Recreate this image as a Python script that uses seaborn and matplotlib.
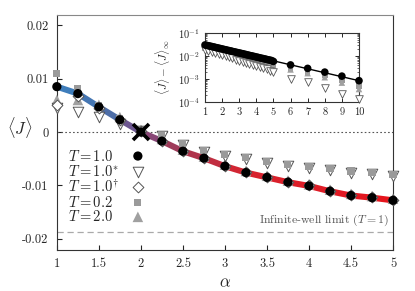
import matplotlib
matplotlib.use("Agg")
import matplotlib.pyplot as plt
import seaborn as sns
from matplotlib.collections import LineCollection
from matplotlib.colors import LinearSegmentedColormap

# -----------------------------
# DATA
# -----------------------------
alpha = [1, 1.25, 1.5, 1.75, 2, 2.25, 2.5, 2.75, 3, 3.25, 3.5, 3.75, 4, 4.25, 4.5, 4.75, 5]
J_T10 = [0.0085, 0.0072, 0.0047, 0.0023, 0.0, -0.0017, -0.0036, -0.0049, -0.0064, -0.0076,
         -0.0085, -0.0094, -0.0101, -0.0111, -0.0119, -0.0123, -0.0128]
J_T10_star = [0.0045, 0.0038, 0.0028, 0.0015, 0.0001, -0.0008, -0.0025, -0.0037, -0.0045, -0.0051,
              -0.0058, -0.0064, -0.0068, -0.0072, -0.0076, -0.0079, -0.0082]
J_T10_dag = [0.0050, 0.0068, 0.0045, 0.0022, 0.0001, -0.0016, -0.0035, -0.0048, -0.0063, -0.0075,
             -0.0084, -0.0093, -0.0100, -0.0110, -0.0118, -0.0122, -0.0127]
J_T02 = [0.0109, 0.0081, 0.0050, 0.0026, 0.0002, -0.0006, -0.0022, -0.0034, -0.0042, -0.0048,
         -0.0055, -0.0061, -0.0065, -0.0069, -0.0073, -0.0076, -0.0079]
J_T20 = [0.0060, 0.0060, 0.0051, 0.0028, 0.0004, -0.0013, -0.0033, -0.0046, -0.0061, -0.0073,
         -0.0082, -0.0091, -0.0098, -0.0108, -0.0116, -0.0120, -0.0125]
J_infinite_well = -0.0187

labels = ["$T = 1.0$", "$T = 1.0^{*}$", "$T = 1.0^{\\dagger}$", "$T = 0.2$", "$T = 2.0$"]

xticks = [1, 1.5, 2, 2.5, 3, 3.5, 4, 4.5, 5]
xticklabels = ["1", "1.5", "2", "2.5", "3", "3.5", "4", "4.5", "5"]
yticks = [-0.02, -0.01, 0, 0.01, 0.02]
yticklabels = ["-0.02", "-0.01", "0", "0.01", "0.02"]

# inset: <J> - <J>_inf on log scale
in_x = [1.0, 1.1, 1.2, 1.3, 1.4, 1.5, 1.6, 1.7, 1.8, 1.9, 2.0, 2.1, 2.2, 2.3, 2.4, 2.5, 2.6, 2.7,
        2.8, 2.9, 3.0, 3.1, 3.2, 3.3, 3.4, 3.5, 3.6, 3.7, 3.8, 3.9, 4.0, 4.1, 4.2, 4.3, 4.4, 4.5,
        4.6, 4.7, 4.8, 4.9, 5.0, 6, 7, 8, 9, 10]
in_T10 = [0.0300, 0.0288, 0.0277, 0.0266, 0.0256, 0.0246, 0.0236, 0.0227, 0.0218, 0.0209, 0.0201,
          0.0193, 0.0186, 0.0178, 0.0171, 0.0165, 0.0158, 0.0152, 0.0146, 0.0140, 0.0135, 0.0130,
          0.0125, 0.0120, 0.0115, 0.0110, 0.0106, 0.0102, 0.0098, 0.0094, 0.0090, 0.0087, 0.0083,
          0.0080, 0.0077, 0.0074, 0.0071, 0.0068, 0.0066, 0.0063, 0.0058,
          0.0041, 0.0029, 0.0020, 0.00134, 0.00085]
in_x2 = [1.0, 1.2, 1.4, 1.6, 1.8, 2.0, 2.2, 2.4, 2.6, 2.8, 3.0, 3.2, 3.4, 3.6, 3.8, 4.0, 4.2, 4.4,
         4.6, 4.8, 5.0, 6, 7, 8, 9, 10]
in_T10_star = [0.0190, 0.0170, 0.0152, 0.0136, 0.0122, 0.0109, 0.0098, 0.0087, 0.0078, 0.0070,
               0.0063, 0.0056, 0.0050, 0.0045, 0.0040, 0.0036, 0.0032, 0.0029, 0.0026, 0.0023,
               0.0021, 0.0010, 0.00074, 0.00042, 0.00022, 0.00014]
in_T02 = [0.0240, 0.0217, 0.0196, 0.0177, 0.0160, 0.0144, 0.0130, 0.0118, 0.0106, 0.0096,
          0.0087, 0.0078, 0.0071, 0.0064, 0.0058, 0.0052, 0.0047, 0.0042, 0.0038, 0.0035,
          0.0031, 0.0028, 0.0020, 0.0014, 0.0009, 0.0005]
in_T20 = [0.0228, 0.0206, 0.0186, 0.0168, 0.0152, 0.0137, 0.0124, 0.0112, 0.0101, 0.0091,
          0.0083, 0.0074, 0.0067, 0.0061, 0.0055, 0.0049, 0.0045, 0.0040, 0.0036, 0.0033,
          0.0029, 0.0026, 0.0018, 0.0012, 0.0007, 0.00037]
fit_x = [1, 10]
fit_y = [0.030, 0.00085]

# -----------------------------
# STYLE
# -----------------------------
sns.set_style("ticks")
plt.rcParams["font.family"] = "cmr10"
plt.rcParams["mathtext.fontset"] = "cm"
plt.rcParams["axes.unicode_minus"] = False
plt.rcParams["axes.formatter.use_mathtext"] = True
plt.rcParams["xtick.direction"] = "in"
plt.rcParams["ytick.direction"] = "in"

fig = plt.figure(figsize=(4.15, 2.91), dpi=100)
ax = fig.add_axes([0.137, 0.141, 0.810, 0.807])

# gradient main curve
cmap = LinearSegmentedColormap.from_list(
    "bluered",
    [(0.0, "#3a80c0"), (0.15, "#4b70aa"), (0.25, "#7c4c84"), (0.35, "#a13a58"),
     (0.55, "#d62430"), (1.0, "#e6141c")])
segs = [[(alpha[i], J_T10[i]), (alpha[i + 1], J_T10[i + 1])] for i in range(len(alpha) - 1)]
mids = [((alpha[i] + alpha[i + 1]) / 2 - 1) / 4 for i in range(len(alpha) - 1)]
lc = LineCollection(segs, colors=[cmap(m) for m in mids], linewidths=4.4,
                    capstyle="round", joinstyle="round", zorder=2)
ax.add_collection(lc)

ax.axhline(0, color="#555555", lw=0.8, ls=(0, (1.5, 2)), zorder=1)
ax.axhline(J_infinite_well, color="#aaaaaa", lw=0.9, ls=(0, (5, 3)), zorder=1)
ax.text(4.95, J_infinite_well + 0.0007, "Infinite-well limit $(T=1)$", ha="right", va="bottom",
        fontsize=8.5, color="#555555")

# series: (values, marker, size, face, edge, zorder)
styles = {
    labels[3]: (J_T02, "s", 26, "#9a9a9a", "none", 4.5),
    labels[4]: (J_T20, "^", 58, "#a0a0a0", "none", 3),
    labels[1]: (J_T10_star, "v", 58, "white", "#555555", 4),
    labels[2]: (J_T10_dag, "D", 30, "white", "#555555", 4.2),
    labels[0]: (J_T10, "o", 44, "black", "none", 5),
}
for lab, (vals, mk, sz, fc, ec, z) in styles.items():
    sns.scatterplot(x=alpha, y=vals, marker=mk, s=sz, facecolor=fc, edgecolor=ec,
                    linewidth=0.7, ax=ax, zorder=z, clip_on=False)
ax.plot([2], [0], marker="x", ms=11, mew=2.6, color="black", zorder=6)

ax.set_xlim(1, 5)
ax.set_ylim(-0.0221, 0.0219)
ax.set_xticks(xticks)
ax.set_xticklabels(xticklabels)
ax.set_yticks(yticks)
ax.set_yticklabels(yticklabels)
ax.tick_params(labelsize=9, length=3.5, width=0.8, pad=6)
for side in ["left", "bottom", "right"]:
    ax.spines[side].set_color("#333333")
ax.spines["top"].set_color("#888888")
ax.set_xlabel("$\\alpha$", fontsize=12)
ax.xaxis.set_label_coords(0.5, -0.105)
ax.set_ylabel("$\\langle J\\rangle$", fontsize=12, rotation=0)
ax.yaxis.set_label_coords(-0.11, 0.47)

# legend: labels left-aligned, key markers to the right
legend_y = [0.400, 0.333, 0.269, 0.203, 0.141]
for lab, ly in zip(labels, legend_y):
    vals, mk, sz, fc, ec, z = styles[lab]
    ax.text(0.033, ly, lab, transform=ax.transAxes, fontsize=10.5, va="center", ha="left")
    ax.scatter([0.241], [ly], marker=mk, s=sz, facecolor=fc, edgecolor=ec, linewidth=0.7,
               transform=ax.transAxes, zorder=z, clip_on=False)

# -----------------------------
# INSET
# -----------------------------
ins = fig.add_axes([0.494, 0.649, 0.371, 0.238])
ins.plot(fit_x, fit_y, color="black", lw=1.0, zorder=2)
sns.scatterplot(x=in_x2, y=in_T02, marker="s", s=16, color="#9a9a9a", edgecolor="none",
                ax=ins, zorder=3, clip_on=False)
sns.scatterplot(x=in_x2, y=in_T20, marker="^", s=22, color="#a0a0a0", edgecolor="none",
                ax=ins, zorder=3, clip_on=False)
sns.scatterplot(x=in_x2, y=in_T10_star, marker="v", s=30, facecolor="white", edgecolor="#555555",
                linewidth=0.6, ax=ins, zorder=4, clip_on=False)
sns.scatterplot(x=in_x, y=in_T10, marker="o", s=30, color="black", edgecolor="none",
                ax=ins, zorder=5, clip_on=False)
ins.set_yscale("log")
ins.set_xlim(1, 10)
ins.set_ylim(1e-4, 1e-1)
ins.set_xticks(range(1, 11))
ins.set_xticklabels([str(i) for i in range(1, 11)])
ins.tick_params(which="both", top=True, right=True, labelsize=7.5, pad=4)
ins.tick_params(which="major", length=3, width=0.7)
ins.tick_params(which="minor", length=1.5, width=0.5)
for s in ins.spines.values():
    s.set_color("#333333")
    s.set_linewidth(0.8)
ins.set_ylabel("$\\langle J\\rangle - \\langle J\\rangle_{\\infty}$", fontsize=8, labelpad=4)

fig.savefig("out.png", dpi=100)
